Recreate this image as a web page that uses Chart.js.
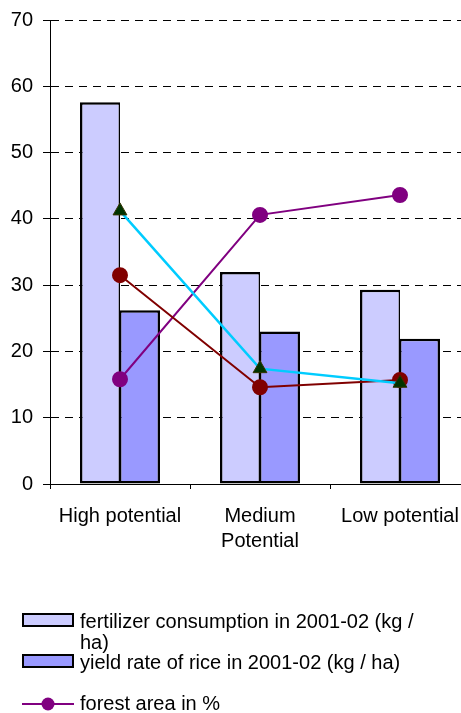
<!DOCTYPE html>
<html><head><meta charset="utf-8">
<script src="https://cdn.jsdelivr.net/npm/chart.js@4/dist/chart.umd.min.js"></script>
<style>html,body{margin:0;padding:0;overflow:hidden;background:#fff}canvas{display:block}</style>
</head><body>
<canvas id="c" width="479" height="713"></canvas>
<script>
const categories = [['High potential'], ['Medium', 'Potential'], ['Low potential']];
const fertilizer = [57.6, 32.0, 29.3];
const yieldRice = [26.2, 23.0, 21.9];
const forest = [15.8, 40.6, 43.6];
const series4 = [31.5, 14.6, 15.7];
const series5 = [41.2, 17.4, 15.2];
const yTicks = [0, 10, 20, 30, 40, 50, 60, 70];

const legendItems = [
  {type: 'box', color: '#CCCCFF', lines: ['fertilizer consumption in 2001-02 (kg /', 'ha)'], y: 622},
  {type: 'box', color: '#9999FF', lines: ['yield rate of rice in 2001-02 (kg / ha)'], y: 663},
  {type: 'line', color: '#800080', lines: ['forest area in %'], y: 704}
];

const legendPlugin = {
  id: 'customLegend',
  afterDraw(chart) {
    const ctx = chart.ctx;
    ctx.save();
    ctx.font = '20px "Liberation Sans", Arial, sans-serif';
    ctx.fillStyle = '#000';
    ctx.textBaseline = 'middle';
    ctx.textAlign = 'left';
    legendItems.forEach(it => {
      if (it.type === 'box') {
        ctx.fillStyle = it.color;
        ctx.fillRect(23, it.y - 8, 50, 12);
        ctx.strokeStyle = '#000';
        ctx.lineWidth = 2;
        ctx.strokeRect(23, it.y - 8, 50, 12);
      } else {
        ctx.strokeStyle = it.color;
        ctx.lineWidth = 2;
        ctx.beginPath(); ctx.moveTo(22, it.y); ctx.lineTo(74, it.y); ctx.stroke();
        ctx.fillStyle = it.color;
        ctx.beginPath(); ctx.arc(48, it.y, 6.5, 0, Math.PI * 2); ctx.fill();
      }
      ctx.fillStyle = '#000';
      it.lines.forEach((t, i) => ctx.fillText(t, 80, it.y + i * 21));
    });
    ctx.restore();
  }
};

new Chart(document.getElementById('c'), {
  type: 'bar',
  data: {
    labels: categories,
    datasets: [
      {type: 'line', label: 'series 5', data: series5, borderColor: '#00CCFF', borderWidth: 2.5,
       pointStyle: 'triangle', pointRadius: 8, pointBackgroundColor: '#003300', pointBorderColor: '#333300',
       pointBorderWidth: 1, order: 1, tension: 0},
      {type: 'line', label: 'series 4', data: series4, borderColor: '#800000', borderWidth: 2,
       pointStyle: 'circle', pointRadius: 7, pointBackgroundColor: '#800000', pointBorderColor: '#800000',
       order: 2, tension: 0},
      {type: 'line', label: 'forest area in %', data: forest, borderColor: '#800080', borderWidth: 2,
       pointStyle: 'circle', pointRadius: 7, pointBackgroundColor: '#800080', pointBorderColor: '#800080',
       order: 3, tension: 0},
      {label: 'fertilizer consumption in 2001-02 (kg / ha)', data: fertilizer, backgroundColor: '#CCCCFF',
       borderColor: '#000', borderWidth: {top: 2.5, left: 2.5, bottom: 2.5, right: 1.5}, borderSkipped: false, order: 10,
       categoryPercentage: 80 / 140, barPercentage: 1},
      {label: 'yield rate of rice in 2001-02 (kg / ha)', data: yieldRice, backgroundColor: '#9999FF',
       borderColor: '#000', borderWidth: {top: 2.5, left: 1.5, bottom: 2.5, right: 2.5}, borderSkipped: false, order: 10,
       categoryPercentage: 80 / 140, barPercentage: 1}
    ]
  },
  options: {
    responsive: false,
    animation: false,
    devicePixelRatio: 1,
    layout: {padding: {top: 20, right: 0, left: 0, bottom: 713 - 484 - 70}},
    plugins: {legend: {display: false}, tooltip: {enabled: false}},
    scales: {
      x: {
        offset: true,
        grid: {display: true, drawOnChartArea: false, drawTicks: true, tickLength: 5, color: '#000', offset: true},
        border: {display: true, color: '#000', width: 1},
        ticks: {color: '#000', padding: 15, maxRotation: 0, autoSkip: false,
                font: {family: '"Liberation Sans", Arial, sans-serif', size: 20, lineHeight: 1.25}},
        afterFit(s) { s.height = 70; }
      },
      y: {
        min: 0, max: 70,
        afterBuildTicks(s) { s.ticks = yTicks.map(v => ({value: v})); },
        grid: {color: '#000', lineWidth: 1, drawTicks: true, tickLength: 7, tickColor: '#000', tickBorderDash: []},
        border: {display: true, color: '#000', width: 1, dash: [8, 6]},
        ticks: {color: '#000', padding: 10, font: {family: '"Liberation Sans", Arial, sans-serif', size: 20, lineHeight: 1}},
        afterFit(s) { s.width = 50; s.paddingTop = 0; s.paddingBottom = 0; }
      }
    }
  },
  plugins: [legendPlugin]
});
</script>
</body></html>
